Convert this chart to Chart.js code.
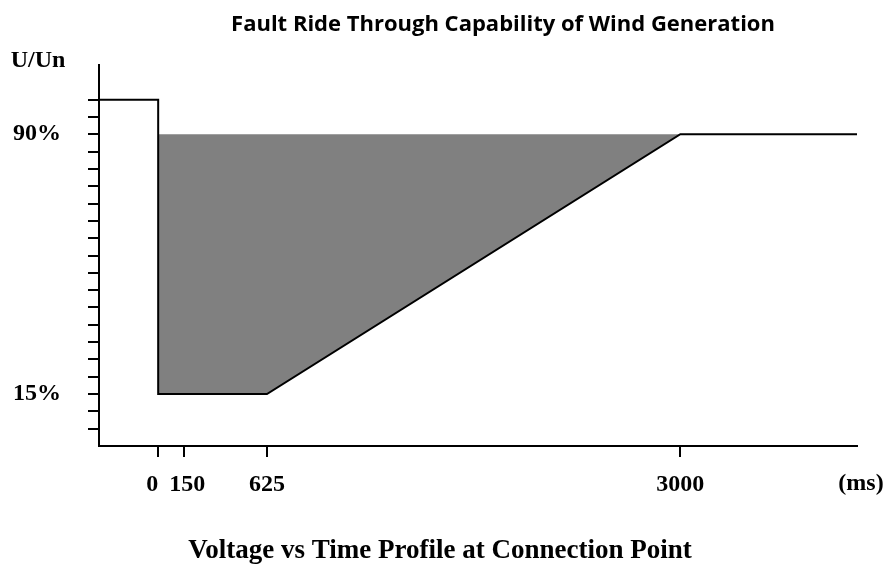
<!DOCTYPE html>
<html>
<head>
<meta charset="utf-8">
<script src="https://cdn.jsdelivr.net/npm/chart.js@4/dist/chart.umd.min.js"></script>
<style>
    html, body { margin: 0; padding: 0; background: #ffffff; }
    #wrap { width: 886px; height: 566px; }
</style>
</head>
<body>
<div id="wrap"><canvas id="frtChart" width="886" height="566"></canvas></div>
<script>
// --- Data ---
const timeMs     = [-340, 0, 0, 625, 3000, 4015];   // boundary profile, time (ms)
const voltagePct = [100, 100, 15, 15, 90, 90];      // boundary profile, U/Un (%)

const zoneTopTime  = [0, 3000];                     // upper edge of shaded zone
const zoneTopVolt  = [90, 90];
const zoneLowTime  = [0, 625, 3000];                // lower edge of shaded zone
const zoneLowVolt  = [15, 15, 90];

const xTickValues = [0, 150, 625, 3000];
const yTickValues = [5, 10, 15, 20, 25, 30, 35, 40, 45, 50, 55, 60, 65, 70, 75, 80, 85, 90, 95, 100];
const yTickLabels = { 90: '90%', 15: '15%' };

const chartTitle  = 'Fault Ride Through Capability of Wind Generation';
const bottomTitle = 'Voltage vs Time Profile at Connection Point';
const yUnit = 'U/Un';
const xUnit = '(ms)';

const toPoints = (xs, ys) => xs.map((x, i) => ({ x: x, y: ys[i] }));

const serifFamily = '"Liberation Serif", "Times New Roman", serif';
const serifBold = 'bold 24px ' + serifFamily;

// --- Text labels around the plot ---
const labelPlugin = {
    id: 'labels',
    afterDraw(chart) {
        const c = chart.ctx;
        c.save();
        c.fillStyle = '#000';
        c.textAlign = 'center';

        c.textBaseline = 'alphabetic';
        c.font = 'bold 22px "Open Sans", "Noto Sans", sans-serif';
        c.fillText(chartTitle, 503, 31);

        c.font = 'bold 27px ' + serifFamily;
        c.fillText(bottomTitle, 440, 558);

        c.textBaseline = 'middle';
        c.font = serifBold;
        c.fillText(yUnit, 38, 61);
        c.fillText(xUnit, 861, 484);
        c.restore();
    }
};

const ctx = document.getElementById('frtChart').getContext('2d');
const frtChart = new Chart(ctx, {
    type: 'line',
    data: {
        datasets: [
            {
                label: 'Profile',
                data: toPoints(timeMs, voltagePct),
                borderColor: '#000000',
                borderWidth: 2,
                pointRadius: 0,
                fill: false,
                tension: 0,
                order: 0
            },
            {
                label: 'Zone top',
                data: toPoints(zoneTopTime, zoneTopVolt),
                borderWidth: 0,
                borderColor: 'rgba(0,0,0,0)',
                backgroundColor: '#808080',
                pointRadius: 0,
                fill: 2,
                order: 1
            },
            {
                label: 'Zone bottom',
                data: toPoints(zoneLowTime, zoneLowVolt),
                borderWidth: 0,
                borderColor: 'rgba(0,0,0,0)',
                pointRadius: 0,
                fill: false,
                order: 2
            }
        ]
    },
    options: {
        responsive: false,
        animation: false,
        layout: { padding: { top: 65, right: 29, left: 0, bottom: 0 } },
        plugins: {
            legend: { display: false },
            tooltip: { enabled: false },
            title: { display: false }
        },
        scales: {
            x: {
                type: 'linear',
                min: -340,
                max: 4015,
                afterBuildTicks: (scale) => { scale.ticks = xTickValues.map(v => ({ value: v })); },
                afterFit: (scale) => { scale.height = 120; },
                ticks: {
                    color: '#000',
                    font: { family: serifFamily, size: 24, weight: 'bold' },
                    padding: 13,
                    maxRotation: 0,
                    autoSkip: false,
                    // 0 and 150 sit close together, nudge them apart with spaces
                    callback: (v) => v === 0 ? '0  ' : (v === 150 ? ' 150' : String(v))
                },
                grid: { drawOnChartArea: false, drawTicks: true, tickLength: 11, color: '#000', lineWidth: 2 },
                border: { display: true, color: '#000', width: 2 }
            },
            y: {
                type: 'linear',
                min: 0,
                max: 110,
                afterBuildTicks: (scale) => { scale.ticks = yTickValues.map(v => ({ value: v })); },
                afterFit: (scale) => { scale.width = 99; },
                ticks: {
                    color: '#000',
                    font: { family: serifFamily, size: 24, weight: 'bold' },
                    padding: 27,
                    autoSkip: false,
                    callback: (v) => yTickLabels[v] || ''
                },
                grid: { drawOnChartArea: false, drawTicks: true, tickLength: 11, color: '#000', lineWidth: 2 },
                border: { display: true, color: '#000', width: 2 }
            }
        }
    },
    plugins: [labelPlugin]
});
</script>
</body>
</html>
